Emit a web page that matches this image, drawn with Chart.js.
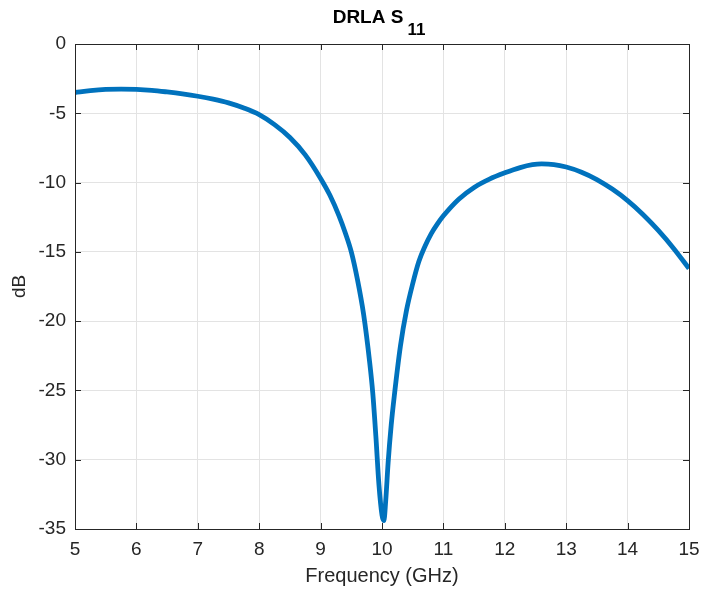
<!DOCTYPE html>
<html>
<head>
<meta charset="utf-8">
<title>DRLA S11</title>
<script src="https://cdn.jsdelivr.net/npm/chart.js@4.4.1/dist/chart.umd.min.js"></script>
<style>
    html, body { margin: 0; padding: 0; background: #ffffff; }
    #wrap { width: 702px; height: 592px; position: relative; }
</style>
</head>
<body>
<div id="wrap"><canvas id="s11Chart"></canvas></div>
<script>
// Frequency points (GHz) and return loss (dB)
const frequencies = [
    5.0, 5.25, 5.5, 5.75, 6.0, 6.25, 6.5, 6.75, 7.0, 7.25, 7.5, 7.75,
    8.0, 8.25, 8.5, 8.75, 9.0, 9.15, 9.3, 9.4, 9.5, 9.6, 9.7, 9.8, 9.85, 9.9, 9.95, 10.0,
    10.03, 10.06, 10.1, 10.15, 10.2, 10.3, 10.4, 10.5, 10.6, 10.7, 10.8, 10.9, 11.0,
    11.25, 11.5, 11.75, 12.0, 12.25, 12.45, 12.6, 12.8, 13.0, 13.25, 13.5, 13.75,
    14.0, 14.25, 14.5, 14.75, 15.0
];
const s11Values = [
    -3.5, -3.37, -3.28, -3.25, -3.27, -3.34, -3.46, -3.6, -3.77, -3.98, -4.25, -4.62,
    -5.1, -5.82, -6.75, -8.0, -9.7, -10.9, -12.4, -13.6, -15.0, -17.0, -19.5, -23.0, -25.2, -28.3, -31.8, -34.0,
    -34.4, -33.0, -30.2, -27.5, -25.4, -21.8, -19.2, -17.3, -15.7, -14.6, -13.7, -13.0, -12.4,
    -11.2, -10.35, -9.75, -9.3, -8.92, -8.71, -8.65, -8.7, -8.88, -9.25, -9.78, -10.47,
    -11.3, -12.3, -13.45, -14.75, -16.2
];
const xTicks = [5, 6, 7, 8, 9, 10, 11, 12, 13, 14, 15];
const yTicks = [0, -5, -10, -15, -20, -25, -30, -35];

const FONT = '"Liberation Sans", Arial, Helvetica, sans-serif';
const TEXT_COLOR = '#262626';

/**
 * Title with subscript and MATLAB style box with inward ticks
 */
const matlabAxesPlugin = {
    id: 'matlabAxes',
    afterDraw(chart) {
        const ctx = chart.ctx;
        const area = chart.chartArea;
        const xScale = chart.scales.x;
        const yScale = chart.scales.y;
        const tickLen = 6;

        ctx.save();
        ctx.strokeStyle = TEXT_COLOR;
        ctx.lineWidth = 1;

        // ticks pointing inwards on all four sides
        ctx.beginPath();
        xTicks.forEach(v => {
            const px = Math.round(xScale.getPixelForValue(v)) + 0.5;
            ctx.moveTo(px, area.bottom);
            ctx.lineTo(px, area.bottom - tickLen);
            ctx.moveTo(px, area.top);
            ctx.lineTo(px, area.top + tickLen);
        });
        yTicks.forEach(v => {
            const py = Math.round(yScale.getPixelForValue(v)) + 0.5;
            ctx.moveTo(area.left, py);
            ctx.lineTo(area.left + tickLen, py);
            ctx.moveTo(area.right, py);
            ctx.lineTo(area.right - tickLen, py);
        });
        ctx.stroke();

        // box
        ctx.strokeRect(Math.round(area.left) + 0.5, Math.round(area.top) + 0.5,
            Math.round(area.right - area.left), Math.round(area.bottom - area.top));

        // title: DRLA S with subscript 11
        ctx.fillStyle = '#000000';
        ctx.textBaseline = 'alphabetic';
        ctx.textAlign = 'left';
        ctx.font = 'bold 19px ' + FONT;
        const main = 'DRLA S';
        const mainW = ctx.measureText(main).width;
        ctx.font = 'bold 17px ' + FONT;
        const sub = '11';
        const subW = ctx.measureText(sub).width;
        const gap = 4;
        const startX = (area.left + area.right) / 2 - (mainW + subW + gap) / 2 - 3;
        ctx.font = 'bold 19px ' + FONT;
        ctx.fillText(main, startX, 23);
        ctx.font = 'bold 17px ' + FONT;
        ctx.fillText(sub, startX + mainW + gap, 35);

        ctx.restore();
    }
};

const ctx = document.getElementById('s11Chart');

new Chart(ctx, {
    type: 'scatter',
    data: {
        datasets: [{
            label: 'S11',
            data: frequencies.map((f, i) => ({ x: f, y: s11Values[i] })),
            showLine: true,
            borderColor: '#0072BD',
            borderWidth: 4.8,
            pointRadius: 0,
            cubicInterpolationMode: 'monotone',
            fill: false
        }]
    },
    options: {
        responsive: true,
        maintainAspectRatio: false,
        animation: false,
        layout: {
            padding: { top: 44, right: 13, left: 0, bottom: 0 }
        },
        plugins: {
            legend: { display: false },
            tooltip: { enabled: false },
            title: { display: false }
        },
        scales: {
            x: {
                type: 'linear',
                min: 5,
                max: 15,
                afterFit: scale => {
                    scale.height = 63;
                    scale.paddingLeft = 0;
                    scale.paddingRight = 0;
                },
                afterBuildTicks: scale => { scale.ticks = xTicks.map(v => ({ value: v })); },
                grid: { color: '#e3e3e3', drawTicks: false },
                border: { display: false },
                ticks: {
                    padding: 9,
                    color: TEXT_COLOR,
                    font: { family: FONT, size: 19 },
                    maxRotation: 0
                },
                title: {
                    display: true,
                    text: 'Frequency (GHz)',
                    color: TEXT_COLOR,
                    font: { family: FONT, size: 20 },
                    padding: { top: 0, bottom: 4 }
                }
            },
            y: {
                type: 'linear',
                min: -35,
                max: 0,
                afterFit: scale => {
                    scale.width = 75;
                    scale.paddingTop = 0;
                    scale.paddingBottom = 0;
                },
                afterBuildTicks: scale => { scale.ticks = yTicks.map(v => ({ value: v })); },
                grid: { color: '#e3e3e3', drawTicks: false },
                border: { display: false },
                ticks: {
                    padding: 9,
                    color: TEXT_COLOR,
                    font: { family: FONT, size: 19 }
                },
                title: {
                    display: true,
                    text: 'dB',
                    color: TEXT_COLOR,
                    font: { family: FONT, size: 19 },
                    padding: { top: 8, bottom: 0 }
                }
            }
        }
    },
    plugins: [matlabAxesPlugin]
});
</script>
</body>
</html>
